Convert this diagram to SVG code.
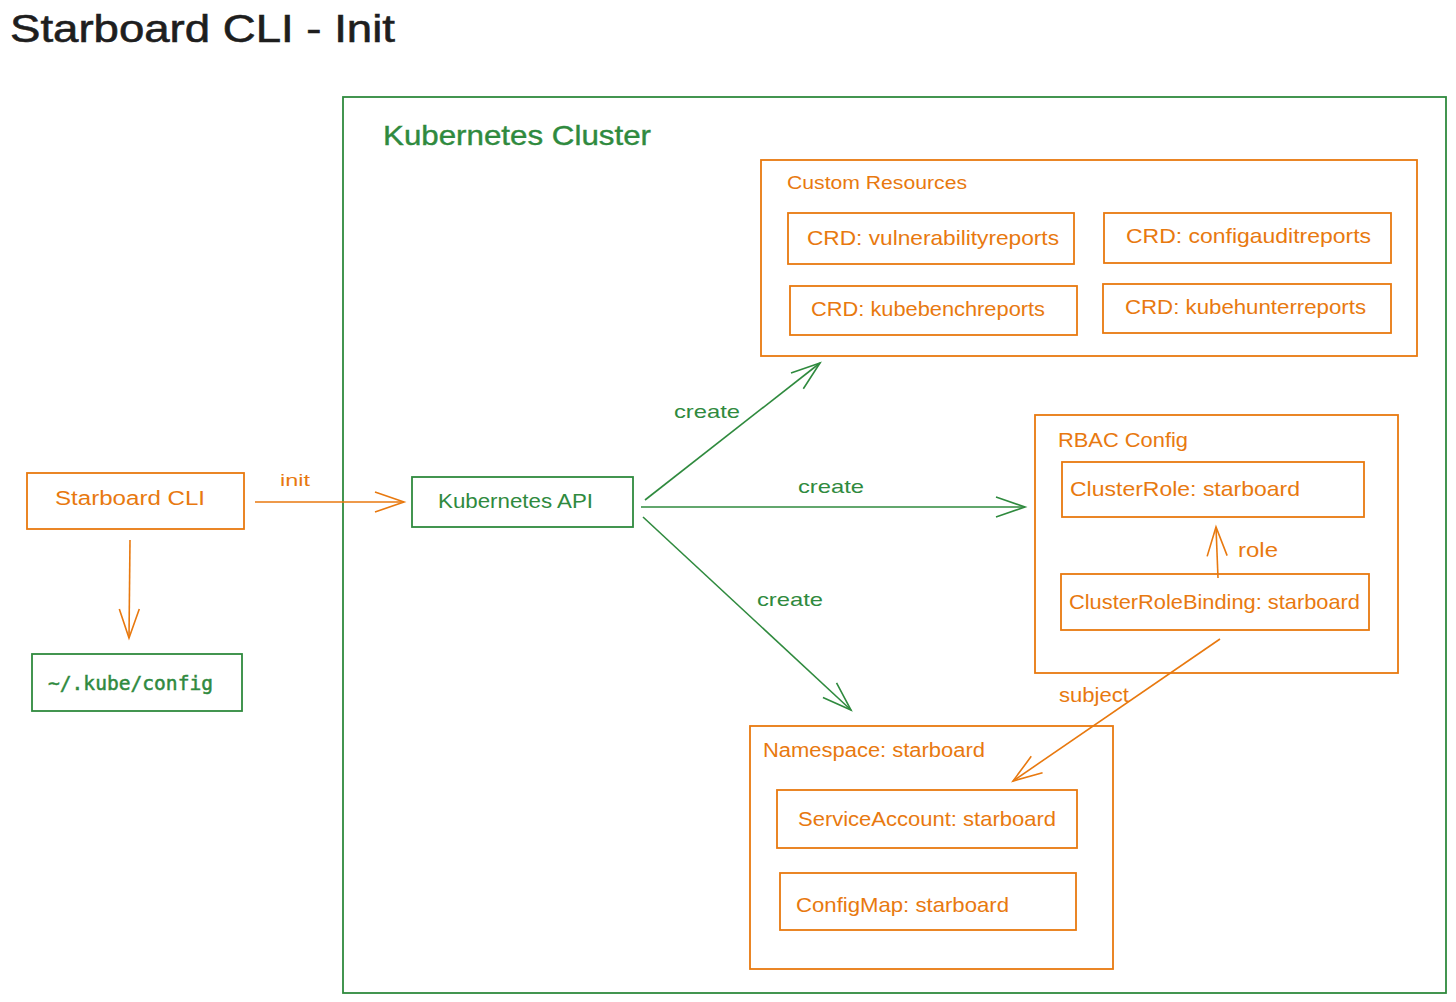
<svg xmlns="http://www.w3.org/2000/svg" width="1456" height="1002" viewBox="0 0 1456 1002">
<style>
.o{fill:none;stroke:#e8790f;stroke-width:1.8}
.g{fill:none;stroke:#2f8a3e;stroke-width:1.8}
.to{fill:#e8790f}
.tg{fill:#2f8a3e}
.ao{fill:none;stroke:#e8790f;stroke-width:1.6}
.ag{fill:none;stroke:#2f8a3e;stroke-width:1.6}
text{font-family:"Liberation Sans",Arial,sans-serif}
.mono{font-family:"DejaVu Sans Mono","Liberation Mono",monospace;stroke:#2f8a3e;stroke-width:0.5}
</style>
<defs>
<marker id="mo" markerUnits="userSpaceOnUse" markerWidth="40" markerHeight="30" refX="0" refY="0" viewBox="-32 -15 40 30" orient="auto" overflow="visible">
<path d="M-29,-10 L0,0 L-29,10" fill="none" stroke="#e8790f" stroke-width="1.6"/>
</marker>
<marker id="mg" markerUnits="userSpaceOnUse" markerWidth="40" markerHeight="30" refX="0" refY="0" viewBox="-32 -15 40 30" orient="auto" overflow="visible">
<path d="M-29,-10 L0,0 L-29,10" fill="none" stroke="#2f8a3e" stroke-width="1.6"/>
</marker>
</defs>
<rect width="1456" height="1002" fill="#ffffff"/>
<text x="10" y="42" font-size="38" fill="#1e1e1e" stroke="#1e1e1e" stroke-width="0.6" textLength="385" lengthAdjust="spacingAndGlyphs">Starboard CLI - Init</text>

<g id="cluster">
<rect class="g" x="343" y="97" width="1103" height="896"/>
<text class="tg" x="383" y="145" font-size="28" stroke="#2f8a3e" stroke-width="0.4" textLength="268" lengthAdjust="spacingAndGlyphs">Kubernetes Cluster</text>
</g>

<g id="custom-resources">
<rect class="o" x="761" y="160" width="656" height="196"/>
<text class="to" x="787" y="189" font-size="18" textLength="180" lengthAdjust="spacingAndGlyphs">Custom Resources</text>
</g>
<g id="crd-vuln">
<rect class="o" x="788" y="213" width="286" height="51"/>
<text class="to" x="807" y="245" font-size="21" textLength="252" lengthAdjust="spacingAndGlyphs">CRD: vulnerabilityreports</text>
</g>
<g id="crd-config">
<rect class="o" x="1104" y="213" width="287" height="50"/>
<text class="to" x="1126" y="243" font-size="21" textLength="245" lengthAdjust="spacingAndGlyphs">CRD: configauditreports</text>
</g>
<g id="crd-bench">
<rect class="o" x="790" y="286" width="287" height="49"/>
<text class="to" x="811" y="316" font-size="21" textLength="234" lengthAdjust="spacingAndGlyphs">CRD: kubebenchreports</text>
</g>
<g id="crd-hunter">
<rect class="o" x="1103" y="284" width="288" height="49"/>
<text class="to" x="1125" y="314" font-size="21" textLength="241" lengthAdjust="spacingAndGlyphs">CRD: kubehunterreports</text>
</g>

<g id="rbac">
<rect class="o" x="1035" y="415" width="363" height="258"/>
<text class="to" x="1058" y="447" font-size="21" textLength="130" lengthAdjust="spacingAndGlyphs">RBAC Config</text>
</g>
<g id="clusterrole">
<rect class="o" x="1062" y="462" width="302" height="55"/>
<text class="to" x="1070" y="496" font-size="21" textLength="230" lengthAdjust="spacingAndGlyphs">ClusterRole: starboard</text>
</g>
<g id="clusterrolebinding">
<rect class="o" x="1061" y="574" width="308" height="56"/>
<text class="to" x="1069" y="609" font-size="21" textLength="291" lengthAdjust="spacingAndGlyphs">ClusterRoleBinding: starboard</text>
</g>

<g id="starboard-cli">
<rect class="o" x="27" y="473" width="217" height="56"/>
<text class="to" x="55" y="505" font-size="20" textLength="150" lengthAdjust="spacingAndGlyphs">Starboard CLI</text>
</g>
<g id="kubeconfig">
<rect class="g" x="32" y="654" width="210" height="57"/>
<text class="tg mono" x="48" y="690" font-size="20" textLength="165" lengthAdjust="spacingAndGlyphs">~/.kube/config</text>
</g>
<g id="kubernetes-api">
<rect class="g" x="412" y="477" width="221" height="50"/>
<text class="tg" x="438" y="508" font-size="20" textLength="155" lengthAdjust="spacingAndGlyphs">Kubernetes API</text>
</g>

<g id="namespace">
<rect class="o" x="750" y="726" width="363" height="243"/>
<text class="to" x="763" y="757" font-size="20" textLength="222" lengthAdjust="spacingAndGlyphs">Namespace: starboard</text>
</g>
<g id="serviceaccount">
<rect class="o" x="777" y="790" width="300" height="58"/>
<text class="to" x="798" y="826" font-size="21" textLength="258" lengthAdjust="spacingAndGlyphs">ServiceAccount: starboard</text>
</g>
<g id="configmap">
<rect class="o" x="780" y="873" width="296" height="57"/>
<text class="to" x="796" y="912" font-size="21" textLength="213" lengthAdjust="spacingAndGlyphs">ConfigMap: starboard</text>
</g>

<g id="connectors">
<line class="ao" x1="130" y1="540" x2="129" y2="638" marker-end="url(#mo)"/>
<line class="ao" x1="255" y1="502" x2="404" y2="502" marker-end="url(#mo)"/>
<text class="to" x="280" y="486" font-size="17" textLength="30" lengthAdjust="spacingAndGlyphs">init</text>
<line class="ag" x1="645" y1="500" x2="820" y2="363" marker-end="url(#mg)"/>
<text class="tg" x="674" y="418" font-size="19" textLength="66" lengthAdjust="spacingAndGlyphs">create</text>
<line class="ag" x1="641" y1="507" x2="1025" y2="507" marker-end="url(#mg)"/>
<text class="tg" x="798" y="493" font-size="19" textLength="66" lengthAdjust="spacingAndGlyphs">create</text>
<line class="ag" x1="643" y1="517" x2="851" y2="710" marker-end="url(#mg)"/>
<text class="tg" x="757" y="606" font-size="19" textLength="66" lengthAdjust="spacingAndGlyphs">create</text>
<line class="ao" x1="1218" y1="578" x2="1216" y2="527" marker-end="url(#mo)"/>
<text class="to" x="1238" y="557" font-size="21" textLength="40" lengthAdjust="spacingAndGlyphs">role</text>
<line class="ao" x1="1220" y1="639" x2="1013" y2="781" marker-end="url(#mo)"/>
<text class="to" x="1059" y="702" font-size="20" textLength="70" lengthAdjust="spacingAndGlyphs">subject</text>
</g>
</svg>
